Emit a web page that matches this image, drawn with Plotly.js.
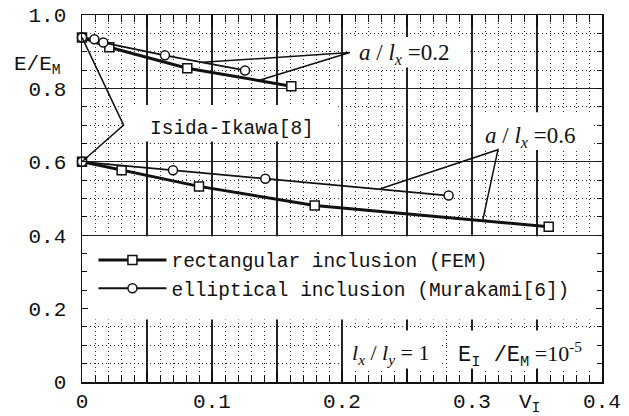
<!DOCTYPE html>
<html>
<head>
<meta charset="utf-8">
<script src="https://cdn.plot.ly/plotly-3.0.1.min.js"></script>
<style>
  html, body { margin: 0; padding: 0; background: #fff; }
  #chart { width: 629px; height: 416px; }
</style>
</head>
<body>
<div id="chart"></div>
<script>
// Volume fraction V_I and normalised modulus E/E_M, a/l_x = 0.2
const fem02X = [0, 0.021, 0.081, 0.161];
const fem02Y = [0.939, 0.912, 0.855, 0.806];
const ell02X = [0, 0.0095, 0.0164, 0.0638, 0.1254];
const ell02Y = [0.939, 0.934, 0.925, 0.890, 0.849];

// a/l_x = 0.6
const fem06X = [0, 0.0305, 0.09, 0.179, 0.359];
const fem06Y = [0.6, 0.577, 0.533, 0.481, 0.423];
const ell06X = [0, 0.07, 0.141, 0.282];
const ell06Y = [0.6, 0.577, 0.554, 0.508];

const seriesNames = ['rectangular inclusion (FEM)', 'elliptical inclusion (Murakami[6])'];

// solid x grid every 0.05, labelled every 0.1
const xTickVals = [0, 0.05, 0.1, 0.15, 0.2, 0.25, 0.3, 0.35, 0.4];
const xTickText = ['0', '', '0.1', '', '0.2', '', '0.3', '', '0.4'];
const yTickVals = [0, 0.2, 0.4, 0.6, 0.8, 1.0];
const yTickText = ['0', '0.2', '0.4', '0.6', '0.8', '1.0'];

const MONO = 'Liberation Mono, DejaVu Sans Mono, monospace';
const SERIF = 'Liberation Serif, DejaVu Serif, serif';
const INK = '#111';

function femTrace(x, y, show) {
  return {
    x: x, y: y, type: 'scatter', mode: 'lines+markers',
    name: seriesNames[0], legendgroup: 'fem', showlegend: show,
    line: { color: INK, width: 3 },
    marker: { symbol: 'square', size: 9, color: '#fff', line: { color: INK, width: 1.5 } },
    cliponaxis: false
  };
}
function ellTrace(x, y, show) {
  return {
    x: x, y: y, type: 'scatter', mode: 'lines+markers',
    name: seriesNames[1], legendgroup: 'ell', showlegend: show,
    line: { color: INK, width: 1.8 },
    marker: { symbol: 'circle', size: 9, color: '#fff', line: { color: INK, width: 1.5 } },
    cliponaxis: false
  };
}

const traces = [
  femTrace(fem02X, fem02Y, true),
  ellTrace(ell02X, ell02Y, true),
  femTrace(fem06X, fem06Y, false),
  ellTrace(ell06X, ell06Y, false)
];

// white panels that blank the grid behind the labels and the key
function panel(x0, x1, y0, y1) {
  return { type: 'rect', xref: 'x', yref: 'y', x0: x0, x1: x1, y0: y0, y1: y1,
           fillcolor: '#fff', line: { width: 0 }, layer: 'between' };
}
function leader(pts) {
  const d = 'M' + pts.map(p => p[0] + ',' + p[1]).join('L');
  return { type: 'path', xref: 'x', yref: 'y', path: d, line: { color: INK, width: 1.5 }, layer: 'above' };
}

const shapes = [
  panel(0, 0.4, 0.17, 0.397),
  panel(0.032, 0.197, 0.655, 0.755),
  panel(0.3015, 0.393, 0.632, 0.735),
  panel(0.205, 0.297, 0.857, 0.94),
  panel(0.2015, 0.276, 0.037, 0.14),
  panel(0.283, 0.397, 0.037, 0.14),
  leader([[0.093, 0.871], [0.206, 0.898], [0.1346, 0.820]]),
  leader([[0.229, 0.526], [0.32, 0.633], [0.308, 0.437]]),
  leader([[0, 0.939], [0.032, 0.70], [0, 0.6]])
];

const annotations = [
  { xref: 'x', yref: 'y', x: 0.2115, y: 0.895, xanchor: 'left', yanchor: 'middle', showarrow: false,
    text: '<i>a</i> / <i>l</i><sub><i>x</i></sub> =0.2', font: { family: SERIF, size: 23, color: INK } },
  { xref: 'x', yref: 'y', x: 0.3085, y: 0.667, xanchor: 'left', yanchor: 'middle', showarrow: false,
    text: '<i>a</i> / <i>l</i><sub><i>x</i></sub> =0.6', font: { family: SERIF, size: 23, color: INK } },
  { xref: 'x', yref: 'y', x: 0.0505, y: 0.69, xanchor: 'left', yanchor: 'middle', showarrow: false,
    text: 'Isida-Ikawa[8]', font: { family: MONO, size: 19.5, color: INK } },
  { xref: 'x', yref: 'y', x: 0.206, y: 0.075, xanchor: 'left', yanchor: 'middle', showarrow: false,
    text: '<i>l</i><sub><i>x</i></sub> / <i>l</i><sub><i>y</i></sub> = 1', font: { family: SERIF, size: 22, color: INK } },
  { xref: 'x', yref: 'y', x: 0.2875, y: 0.075, xanchor: 'left', yanchor: 'middle', showarrow: false,
    text: '<span style="font-family:Liberation Mono">E<sub>I</sub> /E<sub>M</sub></span> =10<sup>-5</sup>',
    font: { family: SERIF, size: 22, color: INK } },
  { xref: 'paper', yref: 'paper', x: -0.085, y: 0.862, xanchor: 'center', yanchor: 'middle', showarrow: false,
    text: 'E/E<sub>M</sub>', font: { family: MONO, size: 21, color: INK } },
  { xref: 'paper', yref: 'paper', x: 0.86, y: -0.058, xanchor: 'center', yanchor: 'middle', showarrow: false,
    text: 'V<sub>I</sub>', font: { family: MONO, size: 21, color: INK } }
];

const gridMinor = { showgrid: true, gridcolor: '#333', gridwidth: 1, griddash: '1px,3px',
                    ticks: 'inside', tickwidth: 1, tickcolor: INK };

const layout = {
  width: 629, height: 416,
  margin: { l: 82, r: 27, t: 15, b: 34, pad: 0 },
  paper_bgcolor: '#fff', plot_bgcolor: '#fff',
  showlegend: true,
  legend: {
    x: 0.022, y: 0.385, xanchor: 'left', yanchor: 'top',
    bgcolor: 'rgba(0,0,0,0)', borderwidth: 0,
    font: { family: MONO, size: 19.5, color: INK },
    itemwidth: 68, tracegroupgap: 0
  },
  xaxis: {
    range: [0, 0.4], tickmode: 'array', tickvals: xTickVals, ticktext: xTickText,
    showgrid: true, gridcolor: '#222', gridwidth: 1.3,
    ticks: 'inside', ticklen: 12, tickwidth: 1.2, tickcolor: INK,
    minor: Object.assign({ dtick: 0.01, tick0: 0, ticklen: 7 }, gridMinor),
    showline: true, mirror: 'ticks', linecolor: INK, linewidth: 1.5,
    zeroline: false, ticklabelstandoff: -1,
    tickfont: { family: MONO, size: 21, color: INK }
  },
  yaxis: {
    range: [0, 1], tickmode: 'array', tickvals: yTickVals, ticktext: yTickText,
    showgrid: true, gridcolor: '#222', gridwidth: 1.3,
    ticks: 'inside', ticklen: 6, tickwidth: 1.2, tickcolor: INK,
    minor: Object.assign({ dtick: 0.05, tick0: 0, ticklen: 5 }, gridMinor),
    showline: true, mirror: 'ticks', linecolor: INK, linewidth: 1.5,
    zeroline: false, ticklabelstandoff: 10,
    tickfont: { family: MONO, size: 21, color: INK }
  },
  shapes: shapes,
  annotations: annotations
};

Plotly.newPlot('chart', traces, layout, { displayModeBar: false, staticPlot: true });
</script>
</body>
</html>
